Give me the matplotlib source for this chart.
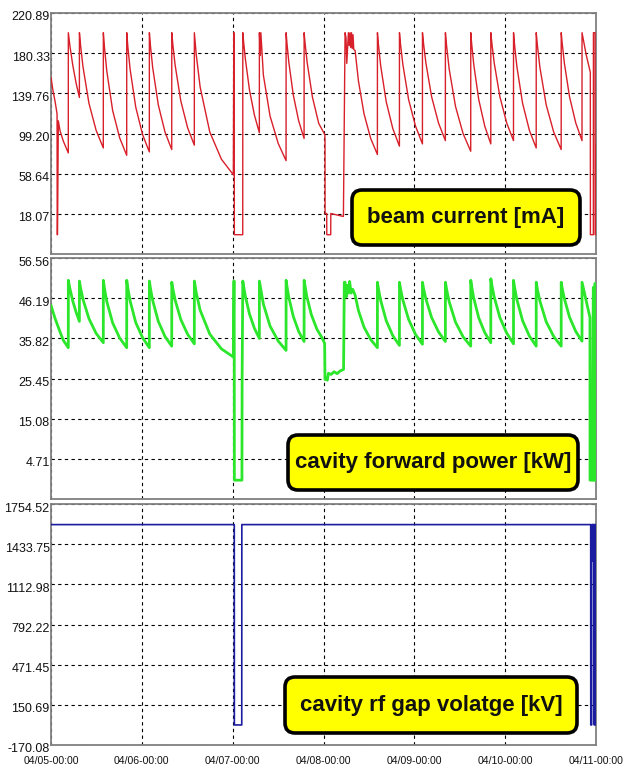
import matplotlib
matplotlib.use("Agg")
import matplotlib.pyplot as plt
from matplotlib.patches import FancyBboxPatch
from matplotlib.transforms import ScaledTranslation

# ---------------- data ----------------
day_hours = [0, 24, 48, 72, 96, 120, 144]
day_labels = ["04/05-00:00", "04/06-00:00", "04/07-00:00", "04/08-00:00",
              "04/09-00:00", "04/10-00:00", "04/11-00:00"]

beam_ticks = [18.07, 58.64, 99.20, 139.76, 180.33, 220.89]
beam_range = [-22.49, 220.89]
power_ticks = [4.71, 15.08, 25.45, 35.82, 46.19, 56.56]
power_range = [-5.66, 56.56]
gap_ticks = [-170.08, 150.69, 471.45, 792.22, 1112.98, 1433.75, 1754.52]
gap_range = [-170.08, 1754.52]

# beam current [mA] (hours since 04/05 00:00)
beam_hours = [0.0, 0.5, 1.06, 1.6, 1.64, 1.72, 1.94, 2.38, 3.26, 4.57,
              4.58, 4.72, 5.01, 5.74, 6.62, 7.5,
              7.51, 7.82, 8.45, 10.03, 11.92, 13.82,
              13.83, 14.13, 14.75, 16.29, 18.15, 20.0,
              20.01, 20.3, 20.9, 22.39, 24.19, 25.98,
              25.99, 26.28, 26.87, 28.35, 30.12, 31.9,
              31.91, 32.2, 32.8, 34.29, 36.08, 37.87,
              37.88, 38.38, 39.4, 41.96, 45.03, 48.18,
              48.3, 48.4, 48.45, 50.66, 50.68,
              50.9, 51.35, 52.44, 53.75, 55.05,
              55.06, 55.3, 55.45, 56.11, 57.87, 60.05, 62.11,
              62.12, 62.35, 62.82, 64.01, 65.44, 66.87,
              66.88, 67.15, 67.7, 69.08, 70.74, 72.35, 72.4, 72.42, 72.85, 72.87, 73.91, 73.93, 75.5, 77.26,
              77.7, 77.95, 78.15, 78.58, 78.8, 79.0, 79.2, 79.4, 79.6, 79.8, 80.0, 80.35,
              81.23, 82.71, 84.47, 86.24,
              86.25, 86.53, 87.11, 88.57, 90.31, 92.06,
              92.07, 92.36, 92.97, 94.49, 96.32, 98.14,
              98.15, 98.44, 99.05, 100.56, 102.38, 104.2,
              104.21, 104.54, 105.2, 106.88, 108.89, 110.9,
              110.91, 111.17, 111.7, 113.02, 114.61, 116.2,
              116.21, 116.5, 117.1, 118.6, 120.4, 122.2,
              122.21, 122.5, 123.1, 124.6, 126.4, 128.2,
              128.21, 128.53, 129.19, 130.84, 132.82, 134.8,
              134.81, 135.08, 135.63, 137.0, 138.65, 140.3,
              140.31, 141.4, 142.5, 142.52, 143.3, 143.32, 143.75, 143.77, 143.96, 143.98]
beam_mA = [156, 143, 132, 119, -3, -3, 112, 102, 91.5, 79.6,
           201, 196.3, 187.4, 168.5, 150.3, 135.6,
           201, 188.1, 166.6, 129.7, 102.4, 84.6,
           201, 186.1, 162.0, 122.4, 94.7, 77.2,
           201, 187.0, 164.2, 125.8, 98.2, 80.6,
           201, 187.7, 165.7, 128.1, 100.7, 83.0,
           201, 188.7, 168.2, 132.2, 105.2, 87.4,
           201, 178.7, 146.3, 100.6, 73.2, 57.5,
           201, 201, -3, -3, 201,
           191.3, 174.6, 143.2, 117.8, 100.0,
           201, 178, 201, 158.3, 116.9, 89.0, 71.8,
           201, 190.2, 171.8, 138.3, 112.0, 94.2,
           201, 189.6, 170.4, 135.9, 109.4, 98.0, 91.5, 18.4, 18.4, -3, -3, 18.4, 17.0, 15.4,
           201, 196, 170, 201, 188, 201, 186, 201, 185, 199, 184, 183,
           152.3, 119.0, 94.2, 78.0,
           201, 188.5, 167.6, 131.3, 104.2, 86.4,
           201, 189.0, 168.9, 133.4, 106.6, 88.7,
           201, 189.8, 170.6, 136.4, 109.9, 92.0,
           201, 187.2, 164.6, 126.5, 99.0, 81.3,
           201, 189.0, 168.9, 133.4, 106.6, 88.7,
           201, 189.8, 170.6, 136.4, 109.9, 92.0,
           201, 188.1, 166.6, 129.7, 102.4, 84.6,
           201, 187.7, 165.7, 128.1, 100.7, 83.0,
           201, 189.8, 170.6, 136.4, 109.9, 92.0,
           201, 178.8, 161, -3, -3, 201, 201, -3, -3, 88]

# cavity forward power [kW]
power_hours = [0.0, 1.06, 2.38, 3.26, 4.57,
               4.58, 4.72, 5.01, 5.74, 6.62, 7.5,
               7.51, 7.82, 8.45, 10.03, 11.92, 13.82,
               13.83, 14.13, 14.75, 16.29, 18.15, 20.0,
               20.01, 20.3, 20.9, 22.39, 24.19, 25.98,
               25.99, 26.28, 26.87, 28.35, 30.12, 31.9,
               31.91, 32.2, 32.8, 34.29, 36.08, 37.87,
               37.88, 38.38, 39.4, 41.96, 45.03, 48.18,
               48.3, 48.4, 48.45, 50.45, 50.5, 50.68,
               50.9, 51.35, 52.44, 53.75, 55.05,
               55.06, 56.11, 57.87, 60.05, 62.11,
               62.12, 62.35, 62.82, 64.01, 65.44, 66.87,
               66.88, 67.15, 67.59, 68.8, 70.25, 71.7, 72.3, 72.4, 72.7, 73.0, 73.3, 74.0, 74.8, 75.6, 76.4, 77.3,
               77.5, 77.7, 78.0, 78.3, 78.6, 78.9, 79.3, 79.7, 80.35, 81.23, 82.71, 84.47, 86.24,
               86.25, 86.53, 87.11, 88.57, 90.31, 92.06,
               92.07, 92.36, 92.97, 94.49, 96.32, 98.14,
               98.15, 98.44, 99.05, 100.56, 102.38, 104.2,
               104.21, 104.54, 105.2, 106.88, 108.89, 110.9,
               110.91, 111.17, 111.7, 113.02, 114.61, 116.2,
               116.21, 116.5, 117.1, 118.6, 120.4, 122.2,
               122.21, 122.5, 123.1, 124.6, 126.4, 128.2,
               128.21, 128.53, 129.19, 130.84, 132.82, 134.8,
               134.81, 135.08, 135.63, 137.0, 138.65, 140.3,
               140.31, 141.4, 142.4, 142.42, 143.1, 143.15, 143.3, 143.35, 143.7, 143.75, 143.85, 143.9, 143.96, 143.98]
power_kW = [44.3, 41.0, 37.5, 35.3, 33.4,
            50.8, 50.0, 48.6, 45.5, 42.6, 40.2,
            50.6, 48.8, 45.9, 40.9, 37.1, 34.7,
            50.8, 48.7, 45.3, 39.8, 35.9, 33.4,
            50.8, 48.8, 45.5, 39.9, 36.0, 33.4,
            50.6, 48.7, 45.6, 40.2, 36.3, 33.8,
            50.3, 48.6, 45.7, 40.7, 36.9, 34.4,
            50.6, 47.6, 43.1, 36.9, 33.1, 31.0,
            50.6, 50.6, -0.8, -0.8, 26.0, 50.6,
            49.2, 46.7, 42.1, 38.4, 35.8,
            50.6, 44.7, 39.0, 35.1, 32.7,
            50.8, 49.2, 46.5, 41.5, 37.6, 35.0,
            50.8, 49.2, 46.6, 41.9, 38.2, 35.8, 34.5, 25.2, 25.4, 25.0, 26.8, 26.5, 27.2, 26.7, 27.4, 27.8,
            50.3, 50.3, 46.5, 49.5, 47.5, 50.5, 47.5, 48.5, 47.0, 43.0, 38.7, 35.5, 33.4,
            50.3, 48.5, 45.6, 40.4, 36.5, 34.0,
            50.3, 48.6, 45.7, 40.7, 36.8, 34.3,
            50.3, 48.7, 46.0, 41.2, 37.5, 35.0,
            50.3, 48.4, 45.3, 40.0, 36.2, 33.8,
            50.8, 49.1, 46.2, 41.1, 37.3, 34.7,
            51.2, 49.5, 46.5, 41.2, 37.2, 34.4,
            50.8, 48.9, 45.8, 40.4, 36.4, 33.8,
            50.3, 48.4, 45.4, 40.1, 36.3, 33.8,
            50.3, 48.7, 46.1, 41.3, 37.6, 35.1,
            50.3, 45.5, 41.2, -0.8, -0.8, 25.6, 49.0, -0.8, -0.8, 50.0, 48.0, -0.8, -0.8, 23.0]

# cavity rf gap voltage [kV]
gap_hours = [0.0, 48.43, 48.45, 50.4, 50.42, 142.6, 142.62, 142.85, 142.87, 143.1,
             143.12, 143.14, 143.5, 143.52, 143.6, 143.62, 143.9, 143.92, 143.97, 143.99]
gap_kV = [1590, 1590, -10, -10, 1590, 1590, -10, -10, 1590, 1590,
          1300, 1590, 1590, -10, -10, 1590, 1590, -10, -10, 780]

# ---------------- figure ----------------
W, H = 625, 769
fig = plt.figure(figsize=(W / 100, H / 100), dpi=100)
fig.patch.set_facecolor("white")

tick_font = ["Liberation Sans", "DejaVu Sans"]


def px_axes(l, t, r, b):
    return fig.add_axes([l / W, 1 - b / H, (r - l) / W, (b - t) / H])


def style(ax, yr, yt, show_bottom_label, show_x):
    ax.set_xlim(0, 144)
    ax.set_ylim(*yr)
    ax.set_xticks(day_hours)
    ax.set_yticks(yt if show_bottom_label else [yr[0]] + yt)
    labels = [f"{v:.2f}" for v in yt]
    ax.set_yticklabels(labels if show_bottom_label else [""] + labels,
                       fontsize=9, family=tick_font, color="#111111")
    if show_x:
        ax.set_xticklabels(day_labels, fontsize=7.6, family=tick_font, color="#111111")
    else:
        ax.set_xticklabels([])
    ax.tick_params(length=0, pad=1)
    ax.tick_params(axis="x", pad=8)
    ax.grid(True, color="black", linestyle=(0, (3, 3)), linewidth=0.8)
    for s in ax.spines.values():
        s.set_color("#808080")
        s.set_linewidth(1.3)
    off = ScaledTranslation(0, -0.03, fig.dpi_scale_trans)
    for lab in ax.get_yticklabels():
        lab.set_transform(lab.get_transform() + off)


ax1 = px_axes(51, 13, 596, 254)
ax2 = px_axes(51, 258, 596, 499)
ax3 = px_axes(51, 504, 596, 745)

ax1.plot(beam_hours, beam_mA, color="#d8202a", lw=1.0, zorder=3)
ax2.plot(power_hours, power_kW, color="#2be62b", lw=2.0, zorder=3)
ax3.plot(gap_hours, gap_kV, color="#1c1ca0", lw=1.2, zorder=3)

style(ax1, beam_range, beam_ticks, False, False)
style(ax2, power_range, power_ticks, False, False)
style(ax3, gap_range, gap_ticks, True, True)


def label_box(l, t, r, b, text):
    box = FancyBboxPatch((l / 100, (H - b) / 100), (r - l) / 100, (b - t) / 100,
                         boxstyle="round,pad=0,rounding_size=0.1",
                         transform=fig.dpi_scale_trans,
                         facecolor="#ffff00", edgecolor="black", linewidth=2.6, zorder=5)
    fig.add_artist(box)
    fig.text((l + r) / 2 / W, 1 - (t + b) / 2 / H, text, ha="center", va="center",
             fontsize=16, fontweight="bold", family=["Liberation Sans", "DejaVu Sans"],
             color="#111111", zorder=6)


label_box(352, 190, 580, 245, "beam current [mA]")
label_box(288, 435, 578, 490, "cavity forward power [kW]")
label_box(285, 677, 577, 733, "cavity rf gap volatge [kV]")

fig.savefig("out.png", dpi=100)
